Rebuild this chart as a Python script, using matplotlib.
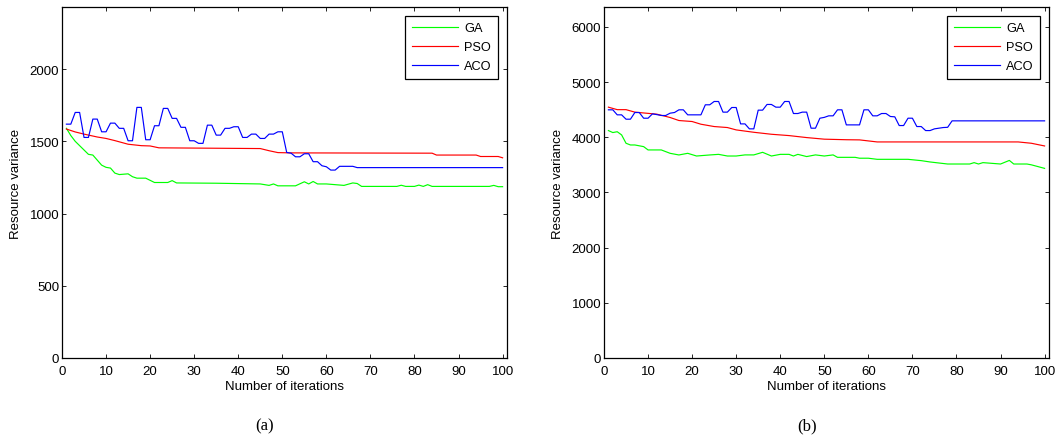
import matplotlib
matplotlib.use('Agg')
import matplotlib.pyplot as plt

plt.rcParams['font.family'] = ['Liberation Sans', 'DejaVu Sans']

# panel (a) -- iteration / value vertices
ga_a_x = [1, 2, 3, 4, 5, 6, 7, 8, 9, 10, 11, 12, 13, 15, 16, 17, 19, 20, 21, 24, 25, 26, 35, 45, 47, 48, 49, 53,
          55, 56, 57, 58, 60, 62, 64, 66, 67, 68, 76, 77, 78, 80, 81, 82, 83, 84, 97, 98, 99, 100]
ga_a_y = [1590, 1540, 1500, 1470, 1440, 1410, 1405, 1370, 1335, 1320, 1315, 1280, 1270, 1275, 1255, 1245, 1245, 1230,
          1215, 1215, 1228, 1212, 1210, 1205, 1195, 1205, 1192, 1192, 1220, 1205, 1222, 1205, 1205, 1200, 1195, 1212,
          1208, 1188, 1188, 1196, 1188, 1188, 1197, 1188, 1200, 1188, 1188, 1195, 1186, 1186]

pso_a_x = [1, 3, 5, 8, 10, 12, 15, 18, 20, 22, 45, 47, 49, 52, 84, 85, 94, 95, 99, 100]
pso_a_y = [1585, 1565, 1550, 1530, 1520, 1505, 1480, 1470, 1468, 1455, 1450, 1435, 1422, 1420, 1418, 1405, 1405,
           1395, 1395, 1386]

aco_a_x = list(range(1, 64)) + [66, 67, 100]
aco_a_y = [1619, 1619, 1700, 1700, 1527, 1527, 1654, 1654, 1566, 1566, 1626, 1626, 1590, 1590, 1504, 1504, 1735, 1735,
           1511, 1511, 1608, 1608, 1728, 1728, 1659, 1659, 1597, 1597, 1504, 1504, 1486, 1486, 1612, 1612, 1543, 1543,
           1590, 1590, 1601, 1601, 1527, 1527, 1550, 1550, 1520, 1520, 1550, 1550, 1566, 1566, 1423, 1418, 1393, 1393,
           1414, 1414, 1359, 1359, 1331, 1324, 1301, 1301, 1327, 1327, 1318, 1318]

# panel (b)
ga_b_x = [1, 2, 3, 4, 5, 6, 7, 8, 9, 10, 13, 15, 17, 19, 21, 24, 26, 28, 30, 32, 34, 36, 38, 40, 42, 43, 44, 46, 48,
          50, 52, 53, 57, 58, 60, 62, 69, 72, 74, 78, 83, 84, 85, 86, 90, 92, 93, 96, 97, 100]
ga_b_y = [4121, 4085, 4100, 4042, 3891, 3860, 3860, 3845, 3830, 3770, 3770, 3709, 3679, 3709, 3660, 3679, 3690, 3660,
          3660, 3680, 3680, 3727, 3660, 3690, 3690, 3660, 3690, 3650, 3680, 3660, 3680, 3636, 3636, 3620, 3620, 3600,
          3600, 3576, 3552, 3515, 3515, 3540, 3515, 3540, 3515, 3580, 3515, 3515, 3500, 3436]

pso_b_x = [1, 3, 5, 7, 12, 15, 17, 20, 22, 25, 28, 30, 34, 38, 42, 46, 50, 55, 58, 62, 94, 97, 100]
pso_b_y = [4545, 4500, 4500, 4455, 4418, 4358, 4303, 4285, 4236, 4194, 4176, 4133, 4090, 4054, 4030, 3994, 3965,
           3955, 3952, 3915, 3915, 3891, 3842]

aco_b_x = list(range(1, 80)) + [100]
aco_b_y = [4497, 4497, 4406, 4406, 4327, 4327, 4448, 4448, 4345, 4345, 4424, 4410, 4394, 4394, 4436, 4448, 4497, 4497,
           4406, 4406, 4406, 4406, 4588, 4588, 4648, 4648, 4455, 4455, 4539, 4539, 4242, 4242, 4152, 4152, 4491, 4491,
           4594, 4594, 4545, 4545, 4648, 4648, 4430, 4430, 4455, 4455, 4164, 4164, 4345, 4360, 4388, 4388, 4497, 4497,
           4224, 4224, 4224, 4224, 4497, 4497, 4388, 4388, 4430, 4430, 4376, 4370, 4212, 4212, 4345, 4345, 4194, 4194,
           4121, 4121, 4152, 4164, 4176, 4180, 4297, 4297]

labels = ['GA', 'PSO', 'ACO']
colors = ['#00ff00', '#ff0000', '#0000ff']

panels = [
    dict(series=[(ga_a_x, ga_a_y), (pso_a_x, pso_a_y), (aco_a_x, aco_a_y)],
         ylim=2430, yticks=range(0, 2001, 500), left=62, caption='(a)', cap_x=265),
    dict(series=[(ga_b_x, ga_b_y), (pso_b_x, pso_b_y), (aco_b_x, aco_b_y)],
         ylim=6360, yticks=range(0, 6001, 1000), left=604, caption='(b)', cap_x=807),
]

W, H = 1059, 439
fig = plt.figure(figsize=(W / 100, H / 100), dpi=100)

for p in panels:
    ax = fig.add_axes([p['left'] / W, (H - 359) / H, 445 / W, 351 / H])
    for (x, y), lab, c in zip(p['series'], labels, colors):
        ax.plot(x, y, color=c, lw=0.85, label=lab)
    ax.set_xlim(0, 101)
    ax.set_ylim(0, p['ylim'])
    ax.set_xticks(range(0, 101, 10))
    ax.set_yticks(list(p['yticks']))
    ax.tick_params(direction='in', top=True, right=True, length=3, width=0.6, labelsize=9.5, pad=2)
    ax.tick_params(axis='x', pad=5)
    for s in ax.spines.values():
        s.set_linewidth(0.9)
    ax.set_xlabel('Number of iterations', fontsize=9.5, labelpad=2)
    ax.set_ylabel('Resource variance', fontsize=9.5)
    ax.yaxis.set_label_coords(-0.09, 0.5)
    leg = ax.legend(loc='upper right', fontsize=9.2, fancybox=False, framealpha=1, edgecolor='black',
                    handlelength=3.6, handletextpad=0.5, labelspacing=0.55, borderaxespad=0.7,
                    borderpad=0.5)
    leg.get_frame().set_linewidth(0.9)
    fig.text(p['cap_x'] / W, 1 - 426 / H, p['caption'], ha='center', va='center',
             family='Liberation Serif', fontsize=12)

fig.savefig('out.png', dpi=100)
